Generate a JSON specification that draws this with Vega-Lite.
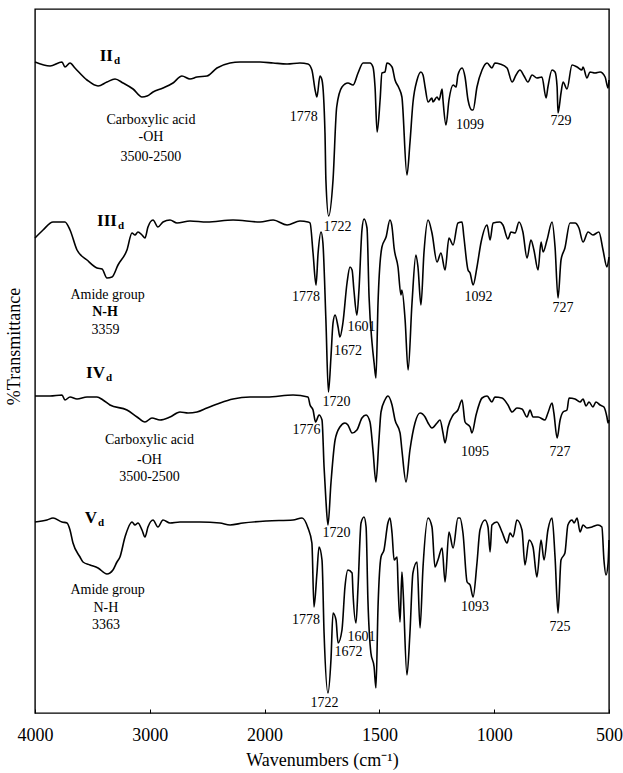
{
  "$schema": "https://vega.github.io/schema/vega-lite/v6.json",
  "width": 574,
  "height": 704,
  "autosize": {"type": "none"},
  "padding": {"left": 35, "top": 9, "right": 14, "bottom": 60},
  "background": "white",
  "config": {"view": {"stroke": "black", "strokeWidth": 1.4}, "font": "Liberation Serif"},
  "datasets": {
    "spectra": [
      {"s":"II","w":4000,"t":651},{"s":"II","w":3869,"t":647},{"s":"II","w":3765,"t":651},{"s":"II","w":3739,"t":646},{"s":"II","w":3695,"t":650},{"s":"II","w":3652,"t":645},{"s":"II","w":3547,"t":633},{"s":"II","w":3451,"t":627},{"s":"II","w":3373,"t":631},{"s":"II","w":3303,"t":634},{"s":"II","w":3233,"t":630},{"s":"II","w":3146,"t":624},{"s":"II","w":3068,"t":616},{"s":"II","w":3024,"t":617},{"s":"II","w":2972,"t":621},{"s":"II","w":2885,"t":625},{"s":"II","w":2798,"t":630},{"s":"II","w":2720,"t":637},{"s":"II","w":2650,"t":634},{"s":"II","w":2589,"t":636},{"s":"II","w":2502,"t":637},{"s":"II","w":2415,"t":645},{"s":"II","w":2301,"t":650},{"s":"II","w":2214,"t":651},{"s":"II","w":2040,"t":651},{"s":"II","w":1963,"t":650},{"s":"II","w":1902,"t":649},{"s":"II","w":1846,"t":650},{"s":"II","w":1811,"t":649},{"s":"II","w":1794,"t":643},{"s":"II","w":1780,"t":623},{"s":"II","w":1772,"t":616},{"s":"II","w":1759,"t":637},{"s":"II","w":1750,"t":633},{"s":"II","w":1737,"t":580},{"s":"II","w":1733,"t":533},{"s":"II","w":1721,"t":497},{"s":"II","w":1702,"t":533},{"s":"II","w":1686,"t":606},{"s":"II","w":1663,"t":626},{"s":"II","w":1637,"t":630},{"s":"II","w":1615,"t":628},{"s":"II","w":1593,"t":640},{"s":"II","w":1571,"t":650},{"s":"II","w":1541,"t":650},{"s":"II","w":1528,"t":646},{"s":"II","w":1519,"t":626},{"s":"II","w":1510,"t":581},{"s":"II","w":1497,"t":613},{"s":"II","w":1489,"t":640},{"s":"II","w":1476,"t":641},{"s":"II","w":1467,"t":650},{"s":"II","w":1445,"t":646},{"s":"II","w":1432,"t":633},{"s":"II","w":1415,"t":625},{"s":"II","w":1402,"t":616},{"s":"II","w":1380,"t":538},{"s":"II","w":1367,"t":570},{"s":"II","w":1354,"t":610},{"s":"II","w":1336,"t":633},{"s":"II","w":1319,"t":641},{"s":"II","w":1310,"t":638},{"s":"II","w":1301,"t":626},{"s":"II","w":1288,"t":611},{"s":"II","w":1271,"t":615},{"s":"II","w":1267,"t":611},{"s":"II","w":1249,"t":616},{"s":"II","w":1240,"t":613},{"s":"II","w":1227,"t":624},{"s":"II","w":1223,"t":613},{"s":"II","w":1210,"t":588},{"s":"II","w":1197,"t":613},{"s":"II","w":1179,"t":628},{"s":"II","w":1166,"t":626},{"s":"II","w":1158,"t":638},{"s":"II","w":1140,"t":645},{"s":"II","w":1127,"t":636},{"s":"II","w":1114,"t":613},{"s":"II","w":1097,"t":603},{"s":"II","w":1092,"t":603},{"s":"II","w":1075,"t":626},{"s":"II","w":1053,"t":643},{"s":"II","w":1031,"t":650},{"s":"II","w":1010,"t":645},{"s":"II","w":997,"t":650},{"s":"II","w":975,"t":649},{"s":"II","w":944,"t":645},{"s":"II","w":922,"t":631},{"s":"II","w":905,"t":638},{"s":"II","w":888,"t":643},{"s":"II","w":870,"t":637},{"s":"II","w":853,"t":631},{"s":"II","w":835,"t":638},{"s":"II","w":814,"t":635},{"s":"II","w":792,"t":636},{"s":"II","w":774,"t":615},{"s":"II","w":766,"t":626},{"s":"II","w":748,"t":643},{"s":"II","w":735,"t":641},{"s":"II","w":726,"t":626},{"s":"II","w":722,"t":600},{"s":"II","w":709,"t":620},{"s":"II","w":700,"t":631},{"s":"II","w":683,"t":624},{"s":"II","w":661,"t":648},{"s":"II","w":639,"t":646},{"s":"II","w":618,"t":643},{"s":"II","w":613,"t":646},{"s":"II","w":596,"t":635},{"s":"II","w":583,"t":641},{"s":"II","w":561,"t":640},{"s":"II","w":539,"t":641},{"s":"II","w":517,"t":636},{"s":"II","w":504,"t":625},{"s":"II","w":500,"t":633},
      {"s":"III","w":4000,"t":475},{"s":"III","w":3930,"t":483},{"s":"III","w":3843,"t":491},{"s":"III","w":3739,"t":491},{"s":"III","w":3695,"t":483},{"s":"III","w":3634,"t":463},{"s":"III","w":3547,"t":453},{"s":"III","w":3460,"t":445},{"s":"III","w":3416,"t":444},{"s":"III","w":3373,"t":435},{"s":"III","w":3329,"t":436},{"s":"III","w":3277,"t":448},{"s":"III","w":3199,"t":463},{"s":"III","w":3155,"t":480},{"s":"III","w":3129,"t":478},{"s":"III","w":3103,"t":481},{"s":"III","w":3068,"t":478},{"s":"III","w":3042,"t":475},{"s":"III","w":3016,"t":486},{"s":"III","w":2972,"t":493},{"s":"III","w":2929,"t":486},{"s":"III","w":2885,"t":491},{"s":"III","w":2824,"t":493},{"s":"III","w":2763,"t":490},{"s":"III","w":2650,"t":492},{"s":"III","w":2502,"t":491},{"s":"III","w":2275,"t":493},{"s":"III","w":2040,"t":491},{"s":"III","w":1963,"t":493},{"s":"III","w":1902,"t":488},{"s":"III","w":1846,"t":492},{"s":"III","w":1811,"t":491},{"s":"III","w":1802,"t":490},{"s":"III","w":1789,"t":460},{"s":"III","w":1776,"t":428},{"s":"III","w":1767,"t":460},{"s":"III","w":1754,"t":481},{"s":"III","w":1746,"t":470},{"s":"III","w":1733,"t":393},{"s":"III","w":1722,"t":321},{"s":"III","w":1711,"t":356},{"s":"III","w":1702,"t":390},{"s":"III","w":1693,"t":398},{"s":"III","w":1680,"t":386},{"s":"III","w":1672,"t":376},{"s":"III","w":1659,"t":390},{"s":"III","w":1641,"t":430},{"s":"III","w":1628,"t":446},{"s":"III","w":1619,"t":443},{"s":"III","w":1611,"t":423},{"s":"III","w":1598,"t":398},{"s":"III","w":1589,"t":423},{"s":"III","w":1576,"t":483},{"s":"III","w":1567,"t":494},{"s":"III","w":1554,"t":485},{"s":"III","w":1545,"t":416},{"s":"III","w":1532,"t":370},{"s":"III","w":1523,"t":350},{"s":"III","w":1515,"t":335},{"s":"III","w":1506,"t":410},{"s":"III","w":1489,"t":466},{"s":"III","w":1471,"t":476},{"s":"III","w":1454,"t":493},{"s":"III","w":1445,"t":486},{"s":"III","w":1436,"t":465},{"s":"III","w":1419,"t":446},{"s":"III","w":1406,"t":418},{"s":"III","w":1402,"t":423},{"s":"III","w":1388,"t":393},{"s":"III","w":1375,"t":343},{"s":"III","w":1358,"t":410},{"s":"III","w":1341,"t":458},{"s":"III","w":1332,"t":446},{"s":"III","w":1319,"t":408},{"s":"III","w":1306,"t":460},{"s":"III","w":1288,"t":493},{"s":"III","w":1271,"t":480},{"s":"III","w":1249,"t":451},{"s":"III","w":1232,"t":460},{"s":"III","w":1214,"t":443},{"s":"III","w":1197,"t":475},{"s":"III","w":1179,"t":468},{"s":"III","w":1158,"t":490},{"s":"III","w":1140,"t":491},{"s":"III","w":1132,"t":476},{"s":"III","w":1114,"t":443},{"s":"III","w":1105,"t":440},{"s":"III","w":1092,"t":428},{"s":"III","w":1075,"t":446},{"s":"III","w":1057,"t":471},{"s":"III","w":1031,"t":488},{"s":"III","w":1018,"t":473},{"s":"III","w":1005,"t":490},{"s":"III","w":975,"t":491},{"s":"III","w":962,"t":488},{"s":"III","w":940,"t":474},{"s":"III","w":927,"t":481},{"s":"III","w":909,"t":480},{"s":"III","w":892,"t":491},{"s":"III","w":875,"t":481},{"s":"III","w":857,"t":455},{"s":"III","w":840,"t":473},{"s":"III","w":827,"t":463},{"s":"III","w":809,"t":443},{"s":"III","w":796,"t":471},{"s":"III","w":787,"t":461},{"s":"III","w":770,"t":473},{"s":"III","w":748,"t":491},{"s":"III","w":735,"t":466},{"s":"III","w":722,"t":415},{"s":"III","w":709,"t":453},{"s":"III","w":692,"t":465},{"s":"III","w":670,"t":490},{"s":"III","w":648,"t":490},{"s":"III","w":631,"t":485},{"s":"III","w":613,"t":471},{"s":"III","w":591,"t":481},{"s":"III","w":570,"t":478},{"s":"III","w":544,"t":481},{"s":"III","w":526,"t":463},{"s":"III","w":509,"t":446},{"s":"III","w":500,"t":456},
      {"s":"IV","w":4000,"t":317},{"s":"IV","w":3869,"t":317},{"s":"IV","w":3765,"t":318},{"s":"IV","w":3739,"t":313},{"s":"IV","w":3695,"t":316},{"s":"IV","w":3634,"t":314},{"s":"IV","w":3547,"t":316},{"s":"IV","w":3460,"t":316},{"s":"IV","w":3408,"t":313},{"s":"IV","w":3347,"t":308},{"s":"IV","w":3199,"t":303},{"s":"IV","w":3111,"t":296},{"s":"IV","w":3042,"t":291},{"s":"IV","w":2981,"t":295},{"s":"IV","w":2911,"t":293},{"s":"IV","w":2824,"t":296},{"s":"IV","w":2737,"t":301},{"s":"IV","w":2667,"t":300},{"s":"IV","w":2589,"t":301},{"s":"IV","w":2502,"t":305},{"s":"IV","w":2389,"t":310},{"s":"IV","w":2275,"t":314},{"s":"IV","w":2127,"t":316},{"s":"IV","w":1990,"t":316},{"s":"IV","w":1876,"t":318},{"s":"IV","w":1811,"t":316},{"s":"IV","w":1802,"t":308},{"s":"IV","w":1789,"t":303},{"s":"IV","w":1778,"t":291},{"s":"IV","w":1763,"t":298},{"s":"IV","w":1750,"t":293},{"s":"IV","w":1741,"t":246},{"s":"IV","w":1733,"t":213},{"s":"IV","w":1724,"t":188},{"s":"IV","w":1711,"t":230},{"s":"IV","w":1693,"t":273},{"s":"IV","w":1672,"t":286},{"s":"IV","w":1650,"t":290},{"s":"IV","w":1637,"t":288},{"s":"IV","w":1619,"t":280},{"s":"IV","w":1598,"t":283},{"s":"IV","w":1576,"t":295},{"s":"IV","w":1558,"t":298},{"s":"IV","w":1541,"t":291},{"s":"IV","w":1528,"t":263},{"s":"IV","w":1515,"t":231},{"s":"IV","w":1502,"t":273},{"s":"IV","w":1493,"t":301},{"s":"IV","w":1476,"t":313},{"s":"IV","w":1463,"t":317},{"s":"IV","w":1445,"t":308},{"s":"IV","w":1432,"t":293},{"s":"IV","w":1410,"t":280},{"s":"IV","w":1402,"t":263},{"s":"IV","w":1384,"t":231},{"s":"IV","w":1367,"t":263},{"s":"IV","w":1345,"t":290},{"s":"IV","w":1323,"t":300},{"s":"IV","w":1301,"t":296},{"s":"IV","w":1288,"t":290},{"s":"IV","w":1271,"t":285},{"s":"IV","w":1249,"t":290},{"s":"IV","w":1236,"t":293},{"s":"IV","w":1223,"t":280},{"s":"IV","w":1214,"t":270},{"s":"IV","w":1201,"t":286},{"s":"IV","w":1179,"t":298},{"s":"IV","w":1158,"t":303},{"s":"IV","w":1140,"t":313},{"s":"IV","w":1127,"t":291},{"s":"IV","w":1105,"t":286},{"s":"IV","w":1097,"t":280},{"s":"IV","w":1079,"t":298},{"s":"IV","w":1053,"t":315},{"s":"IV","w":1031,"t":317},{"s":"IV","w":1010,"t":311},{"s":"IV","w":997,"t":316},{"s":"IV","w":966,"t":315},{"s":"IV","w":940,"t":308},{"s":"IV","w":922,"t":301},{"s":"IV","w":901,"t":305},{"s":"IV","w":879,"t":304},{"s":"IV","w":857,"t":296},{"s":"IV","w":844,"t":303},{"s":"IV","w":831,"t":296},{"s":"IV","w":809,"t":296},{"s":"IV","w":779,"t":293},{"s":"IV","w":766,"t":300},{"s":"IV","w":748,"t":310},{"s":"IV","w":740,"t":300},{"s":"IV","w":726,"t":275},{"s":"IV","w":713,"t":293},{"s":"IV","w":700,"t":301},{"s":"IV","w":683,"t":303},{"s":"IV","w":674,"t":315},{"s":"IV","w":648,"t":314},{"s":"IV","w":626,"t":311},{"s":"IV","w":613,"t":314},{"s":"IV","w":600,"t":307},{"s":"IV","w":587,"t":311},{"s":"IV","w":570,"t":306},{"s":"IV","w":557,"t":311},{"s":"IV","w":539,"t":308},{"s":"IV","w":522,"t":306},{"s":"IV","w":509,"t":296},{"s":"IV","w":504,"t":290},{"s":"IV","w":500,"t":293},
      {"s":"V","w":4000,"t":191},{"s":"V","w":3896,"t":193},{"s":"V","w":3843,"t":195},{"s":"V","w":3765,"t":191},{"s":"V","w":3721,"t":190},{"s":"V","w":3695,"t":183},{"s":"V","w":3669,"t":170},{"s":"V","w":3608,"t":156},{"s":"V","w":3582,"t":151},{"s":"V","w":3521,"t":148},{"s":"V","w":3451,"t":145},{"s":"V","w":3373,"t":139},{"s":"V","w":3321,"t":143},{"s":"V","w":3286,"t":151},{"s":"V","w":3260,"t":156},{"s":"V","w":3216,"t":176},{"s":"V","w":3155,"t":191},{"s":"V","w":3129,"t":188},{"s":"V","w":3103,"t":190},{"s":"V","w":3068,"t":183},{"s":"V","w":3042,"t":176},{"s":"V","w":3016,"t":186},{"s":"V","w":2972,"t":193},{"s":"V","w":2929,"t":186},{"s":"V","w":2885,"t":193},{"s":"V","w":2824,"t":190},{"s":"V","w":2737,"t":191},{"s":"V","w":2563,"t":191},{"s":"V","w":2389,"t":190},{"s":"V","w":2301,"t":188},{"s":"V","w":2188,"t":190},{"s":"V","w":1990,"t":192},{"s":"V","w":1876,"t":193},{"s":"V","w":1837,"t":195},{"s":"V","w":1811,"t":185},{"s":"V","w":1794,"t":170},{"s":"V","w":1785,"t":106},{"s":"V","w":1772,"t":140},{"s":"V","w":1763,"t":166},{"s":"V","w":1750,"t":153},{"s":"V","w":1741,"t":80},{"s":"V","w":1724,"t":20},{"s":"V","w":1711,"t":53},{"s":"V","w":1702,"t":100},{"s":"V","w":1689,"t":93},{"s":"V","w":1680,"t":70},{"s":"V","w":1663,"t":83},{"s":"V","w":1650,"t":126},{"s":"V","w":1637,"t":143},{"s":"V","w":1619,"t":140},{"s":"V","w":1615,"t":120},{"s":"V","w":1602,"t":90},{"s":"V","w":1593,"t":126},{"s":"V","w":1580,"t":190},{"s":"V","w":1567,"t":196},{"s":"V","w":1558,"t":186},{"s":"V","w":1550,"t":113},{"s":"V","w":1537,"t":60},{"s":"V","w":1523,"t":46},{"s":"V","w":1515,"t":25},{"s":"V","w":1506,"t":106},{"s":"V","w":1493,"t":156},{"s":"V","w":1480,"t":163},{"s":"V","w":1463,"t":190},{"s":"V","w":1454,"t":195},{"s":"V","w":1445,"t":180},{"s":"V","w":1436,"t":153},{"s":"V","w":1423,"t":156},{"s":"V","w":1419,"t":130},{"s":"V","w":1410,"t":91},{"s":"V","w":1402,"t":141},{"s":"V","w":1397,"t":123},{"s":"V","w":1380,"t":38},{"s":"V","w":1367,"t":80},{"s":"V","w":1354,"t":140},{"s":"V","w":1336,"t":151},{"s":"V","w":1323,"t":85},{"s":"V","w":1310,"t":146},{"s":"V","w":1288,"t":195},{"s":"V","w":1271,"t":186},{"s":"V","w":1258,"t":146},{"s":"V","w":1245,"t":153},{"s":"V","w":1227,"t":165},{"s":"V","w":1214,"t":131},{"s":"V","w":1197,"t":181},{"s":"V","w":1179,"t":165},{"s":"V","w":1158,"t":195},{"s":"V","w":1149,"t":195},{"s":"V","w":1136,"t":180},{"s":"V","w":1118,"t":131},{"s":"V","w":1105,"t":128},{"s":"V","w":1092,"t":116},{"s":"V","w":1075,"t":150},{"s":"V","w":1062,"t":183},{"s":"V","w":1040,"t":193},{"s":"V","w":1027,"t":186},{"s":"V","w":1018,"t":161},{"s":"V","w":1010,"t":188},{"s":"V","w":988,"t":191},{"s":"V","w":966,"t":181},{"s":"V","w":944,"t":170},{"s":"V","w":931,"t":180},{"s":"V","w":918,"t":176},{"s":"V","w":901,"t":193},{"s":"V","w":879,"t":183},{"s":"V","w":866,"t":148},{"s":"V","w":848,"t":173},{"s":"V","w":831,"t":166},{"s":"V","w":814,"t":136},{"s":"V","w":796,"t":173},{"s":"V","w":783,"t":153},{"s":"V","w":766,"t":183},{"s":"V","w":748,"t":195},{"s":"V","w":735,"t":156},{"s":"V","w":722,"t":100},{"s":"V","w":709,"t":153},{"s":"V","w":692,"t":160},{"s":"V","w":679,"t":188},{"s":"V","w":661,"t":193},{"s":"V","w":652,"t":190},{"s":"V","w":639,"t":195},{"s":"V","w":626,"t":181},{"s":"V","w":613,"t":188},{"s":"V","w":596,"t":185},{"s":"V","w":574,"t":186},{"s":"V","w":548,"t":188},{"s":"V","w":531,"t":186},{"s":"V","w":522,"t":153},{"s":"V","w":513,"t":138},{"s":"V","w":504,"t":150},{"s":"V","w":500,"t":173}
    ],
    "notes": [
      {"w":2990,"t":593,"label":"Carboxylic acid"},{"w":2990,"t":576,"label":"-OH"},{"w":2990,"t":556,"label":"3500-2500"},{"w":1830,"t":596,"label":"1778"},{"w":1682,"t":486,"label":"1722"},{"w":1105,"t":588,"label":"1099"},{"w":709,"t":592,"label":"729"},
      {"w":3368,"t":418,"label":"Amide group"},{"w":3386,"t":383,"label":"3359"},{"w":1820,"t":416,"label":"1778"},{"w":1578,"t":386,"label":"1601"},{"w":1637,"t":362,"label":"1672"},{"w":1687,"t":311,"label":"1720"},{"w":1068,"t":416,"label":"1092"},{"w":700,"t":405,"label":"727"},
      {"w":3003,"t":273,"label":"Carboxylic acid"},{"w":3003,"t":253,"label":"-OH"},{"w":3003,"t":236,"label":"3500-2500"},{"w":1817,"t":283,"label":"1776"},{"w":1687,"t":180,"label":"1720"},{"w":1084,"t":261,"label":"1095"},{"w":713,"t":261,"label":"727"},
      {"w":3368,"t":123,"label":"Amide group"},{"w":3382,"t":105,"label":"N-H"},{"w":3382,"t":88,"label":"3363"},{"w":1820,"t":93,"label":"1778"},{"w":1578,"t":76,"label":"1601"},{"w":1635,"t":61,"label":"1672"},{"w":1739,"t":10,"label":"1722"},{"w":1084,"t":106,"label":"1093"},{"w":713,"t":86,"label":"725"}
    ],
    "boldnotes": [
      {"w":3390,"t":401,"label":"N-H"}
    ],
    "samples": [
      {"w":3321,"t":657,"name":"II","sub":"d"},
      {"w":3286,"t":492,"name":"III","sub":"d"},
      {"w":3390,"t":340,"name":"IV","sub":"d"},
      {"w":3460,"t":195,"name":"V","sub":"d"}
    ]
  },
  "layer": [
    {
      "data": {"name": "spectra"},
      "mark": {"type": "line", "color": "black", "strokeWidth": 1.6, "interpolate": "monotone"},
      "encoding": {
        "x": {
          "field": "w", "type": "quantitative",
          "scale": {"domain": [4000, 2000, 500], "range": [0, 229.6, 574]},
          "axis": {
            "values": [4000, 3000, 2000, 1500, 1000, 500],
            "format": "d",
            "title": "Wavenumbers (cm⁻¹)",
            "domain": false,
            "grid": false,
            "tickSize": -4,
            "tickWidth": 1,
            "tickColor": "black",
            "labelPadding": 17,
            "labelFontSize": 18,
            "labelFont": "Liberation Serif",
            "labelColor": "black",
            "labelFlush": false,
            "labelOverlap": false,
            "titleFontSize": 18,
            "titleFont": "Liberation Serif",
            "titleFontWeight": "normal",
            "titleColor": "black",
            "titleY": 47,
            "titleBaseline": "middle"
          }
        },
        "y": {
          "field": "t", "type": "quantitative",
          "scale": {"domain": [0, 704], "nice": false},
          "axis": {
            "title": "%Transmittance",
            "labels": false,
            "ticks": false,
            "domain": false,
            "grid": false,
            "titleX": -21,
            "titleY": 337,
            "titleAngle": -90,
            "titleAlign": "center",
            "titleBaseline": "middle",
            "titleFontSize": 18,
            "titleFont": "Liberation Serif",
            "titleFontWeight": "normal",
            "titleColor": "black"
          }
        },
        "detail": {"field": "s"}
      }
    },
    {
      "data": {"name": "notes"},
      "mark": {"type": "text", "font": "Liberation Serif", "fontSize": 14, "color": "black", "align": "center", "baseline": "middle"},
      "encoding": {
        "x": {"field": "w", "type": "quantitative"},
        "y": {"field": "t", "type": "quantitative"},
        "text": {"field": "label"}
      }
    },
    {
      "data": {"name": "boldnotes"},
      "mark": {"type": "text", "font": "Liberation Serif", "fontSize": 14, "fontWeight": "bold", "color": "black", "align": "center", "baseline": "middle"},
      "encoding": {
        "x": {"field": "w", "type": "quantitative"},
        "y": {"field": "t", "type": "quantitative"},
        "text": {"field": "label"}
      }
    },
    {
      "data": {"name": "samples"},
      "mark": {"type": "text", "font": "Liberation Serif", "fontSize": 17, "fontWeight": "bold", "color": "black", "align": "right", "baseline": "middle"},
      "encoding": {
        "x": {"field": "w", "type": "quantitative"},
        "y": {"field": "t", "type": "quantitative"},
        "text": {"field": "name"}
      }
    },
    {
      "data": {"name": "samples"},
      "mark": {"type": "text", "font": "Liberation Serif", "fontSize": 11, "fontWeight": "bold", "color": "black", "align": "left", "baseline": "middle", "dx": 1, "dy": 5},
      "encoding": {
        "x": {"field": "w", "type": "quantitative"},
        "y": {"field": "t", "type": "quantitative"},
        "text": {"field": "sub"}
      }
    }
  ]
}
